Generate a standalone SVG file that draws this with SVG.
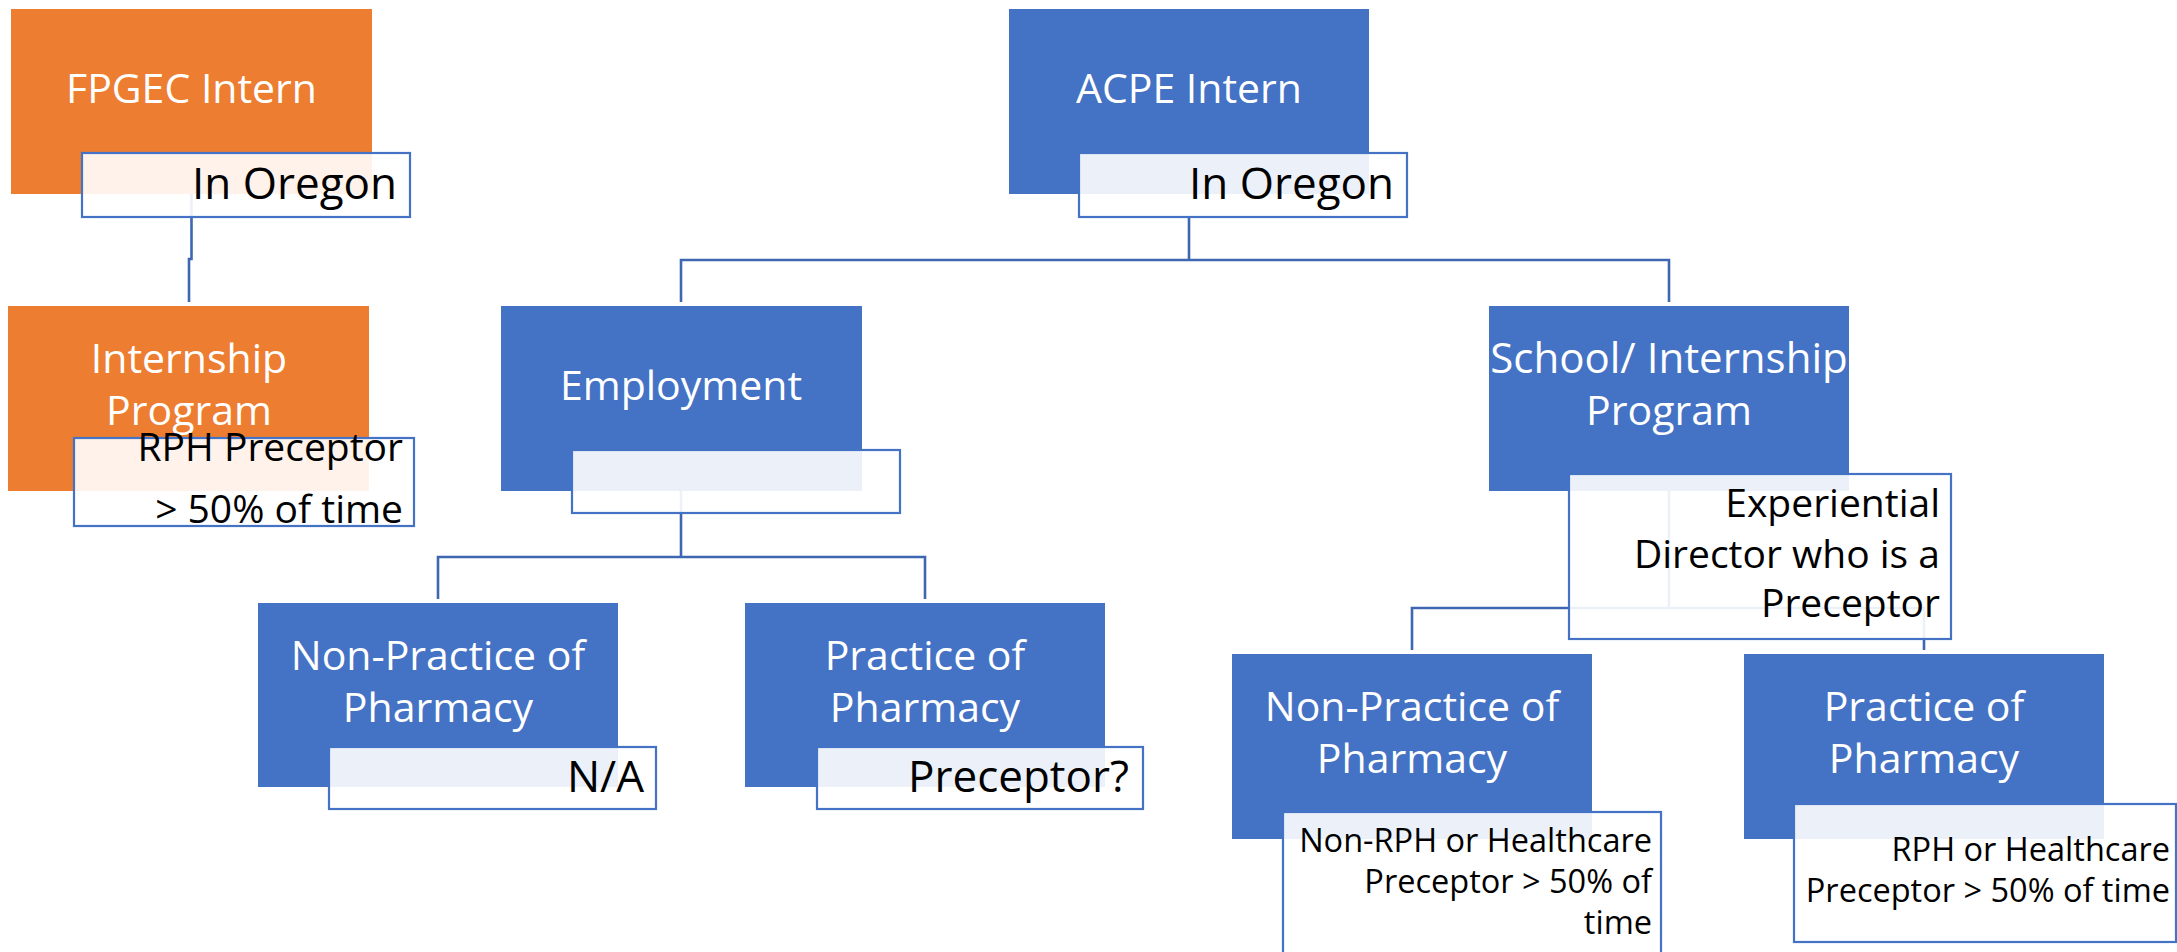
<svg xmlns="http://www.w3.org/2000/svg" width="2177" height="952" viewBox="0 0 2177 952">
<style>
.o{fill:#ED7D31}
.b{fill:#4472C4}
.s{fill:#fff;fill-opacity:0.9;stroke:#4472C4;stroke-width:2.2}
.t{font-family:"Open Sans","Noto Sans","Liberation Sans",sans-serif;font-size:41px;fill:#fff;text-anchor:middle}
.k{font-family:"Open Sans","Noto Sans","Liberation Sans",sans-serif;fill:#000;text-anchor:end}
.k43{font-size:44px}
.k38{font-size:39px}
.k36{font-size:39px}
.k32{font-size:32.5px}
.c{fill:none;stroke:#3F67B1;stroke-width:2.6}
</style>
<rect width="2177" height="952" fill="#fff"/>
<g id="connectors">
<path class="c" d="M191.5,194 V259 H189 V302"/>
<path class="c" d="M1189,217 V260 M681,302 V260 H1669 V302"/>
<path class="c" d="M681,491 V557 M438,599 V557 H925 V599"/>
<path class="c" d="M1669,491 V608 M1412,650 V608 H1924 V650"/>
</g>
<g id="fpgec">
<rect class="o" x="11" y="9" width="361" height="185"/>
<text class="t" x="191.5" y="103">FPGEC Intern</text>
<rect class="s" x="82" y="153" width="328" height="64"/>
<text class="k k43" x="397" y="199">In Oregon</text>
</g>
<g id="internship">
<rect class="o" x="8" y="306" width="361" height="185"/>
<text class="t" x="189" y="373">Internship</text>
<text class="t" x="189" y="425">Program</text>
<rect class="s" x="74" y="438" width="340" height="88"/>
<text class="k k36" x="403" y="461">RPH Preceptor</text>
<text class="k k36" x="403" y="523">&gt; 50% of time</text>
</g>
<g id="acpe">
<rect class="b" x="1009" y="9" width="360" height="185"/>
<text class="t" x="1189" y="103">ACPE Intern</text>
<rect class="s" x="1079" y="153" width="328" height="64"/>
<text class="k k43" x="1394" y="199">In Oregon</text>
</g>
<g id="employment">
<rect class="b" x="501" y="306" width="361" height="185"/>
<text class="t" x="681" y="400">Employment</text>
<rect class="s" x="572" y="450" width="328" height="63"/>
</g>
<g id="emp-nonpractice">
<rect class="b" x="258" y="603" width="360" height="184"/>
<text class="t" x="438" y="670">Non-Practice of</text>
<text class="t" x="438" y="722">Pharmacy</text>
<rect class="s" x="329" y="747" width="327" height="62"/>
<text class="k k43" x="644" y="792">N/A</text>
</g>
<g id="emp-practice">
<rect class="b" x="745" y="603" width="360" height="184"/>
<text class="t" x="925" y="670">Practice of</text>
<text class="t" x="925" y="722">Pharmacy</text>
<rect class="s" x="817" y="747" width="326" height="62"/>
<text class="k k43" x="1129" y="792">Preceptor?</text>
</g>
<g id="school">
<rect class="b" x="1489" y="306" width="360" height="185"/>
<text class="t" x="1669" y="373" style="font-size:42px">School/ Internship</text>
<text class="t" x="1669" y="425">Program</text>
<rect class="s" x="1569" y="474" width="382" height="165"/>
<text class="k k38" x="1940" y="517">Experiential</text>
<text class="k k38" x="1940" y="568">Director who is a</text>
<text class="k k38" x="1940" y="617">Preceptor</text>
</g>
<g id="school-nonpractice">
<rect class="b" x="1232" y="654" width="360" height="185"/>
<text class="t" x="1412" y="721">Non-Practice of</text>
<text class="t" x="1412" y="773">Pharmacy</text>
<rect class="s" x="1283" y="812" width="378" height="200"/>
<text class="k k32" x="1652" y="852">Non-RPH or Healthcare</text>
<text class="k k32" x="1652" y="893">Preceptor &gt; 50% of</text>
<text class="k k32" x="1652" y="934">time</text>
</g>
<g id="school-practice">
<rect class="b" x="1744" y="654" width="360" height="185"/>
<text class="t" x="1924" y="721">Practice of</text>
<text class="t" x="1924" y="773">Pharmacy</text>
<rect class="s" x="1794" y="804" width="382" height="138"/>
<text class="k k32" x="2170" y="861">RPH or Healthcare</text>
<text class="k k32" x="2170" y="902">Preceptor &gt; 50% of time</text>
</g>
</svg>
